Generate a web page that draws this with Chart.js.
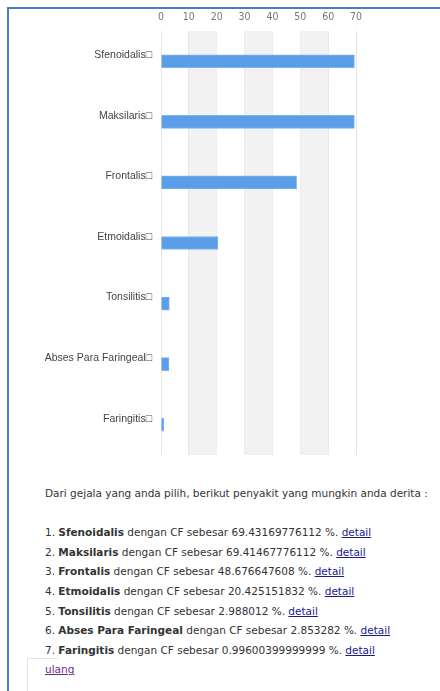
<!DOCTYPE html>
<html>
<head>
<meta charset="utf-8">
<script src="https://cdn.jsdelivr.net/npm/chart.js@4/dist/chart.umd.min.js"></script>
<style>
  body { margin: 0; background: #fff; width: 440px; height: 691px; overflow: hidden; position: relative; }
  .frame { position: absolute; left: 7px; top: 7px; width: 450px; height: 700px; border-left: 2px solid #4a7cc4; border-top: 2px solid #4a7cc4; }
  #wrap { position: absolute; left: 0; top: 0; width: 440px; height: 470px; }
  .result { position: absolute; left: 45px; top: 484px; font-family: Tahoma, "DejaVu Sans", sans-serif; font-size: 10.5px; color: #333; line-height: 19.6px; white-space: nowrap; }
  .result a { color: #1a1a8c; }
  .box { position: absolute; left: 27px; top: 658px; width: 30px; height: 40px; border-left: 1px solid #e4e4e4; border-top: 1px solid #e4e4e4; }
</style>
</head>
<body>
<div class="frame"></div>
<div id="wrap"><canvas id="myChart"></canvas></div>
<div class="box"></div>
<div class="result" id="result"></div>
<script>
// data
const diseases = ['Sfenoidalis', 'Maksilaris', 'Frontalis', 'Etmoidalis', 'Tonsilitis', 'Abses Para Faringeal', 'Faringitis'];
const cfValues = [69.43169776112, 69.41467776112, 48.676647608, 20.425151832, 2.988012, 2.853282, 0.99600399999999];
const xTicks = [0, 10, 20, 30, 40, 50, 60, 70];

// alternate grey bands behind the bars
const bandPlugin = {
    id: 'bands',
    beforeDatasetsDraw(chart) {
        const x = chart.scales.x, area = chart.chartArea, c = chart.ctx;
        c.save();
        c.fillStyle = '#f2f2f2';
        for (let i = 1; i < xTicks.length - 1; i += 2) {
            const a = x.getPixelForValue(xTicks[i]), b = x.getPixelForValue(xTicks[i + 1]);
            c.fillRect(a, area.top, b - a, area.bottom - area.top);
        }
        c.restore();
    }
};

var ctx = document.getElementById('myChart').getContext('2d');
var myChart = new Chart(ctx, {
    type: 'bar',
    data: {
        labels: diseases.map(d => d + '\u25A1'),
        datasets: [{
            data: cfValues,
            backgroundColor: '#5a9ee9',
            borderColor: '#7db4f0',
            borderWidth: 1,
            barThickness: 13
        }]
    },
    plugins: [bandPlugin],
    options: {
        indexAxis: 'y',
        responsive: true,
        maintainAspectRatio: false,
        animation: false,
        layout: { padding: { left: 0, right: 84, top: 0, bottom: 15 } },
        plugins: { legend: { display: false }, tooltip: { enabled: false } },
        scales: {
            x: {
                position: 'top',
                min: 0, max: 70,
                afterBuildTicks: s => { s.ticks = xTicks.map(v => ({ value: v })); },
                afterFit: s => { s.height = 31; },
                ticks: { color: '#777', padding: 7, font: { family: '"Liberation Sans Narrow", "DejaVu Sans Condensed", sans-serif', size: 10.5 } },
                grid: { color: '#e6e6e6', drawTicks: false },
                border: { display: false }
            },
            y: {
                afterFit: s => { s.width = 161; },
                ticks: { color: '#444', padding: 1, labelOffset: -6, font: { family: '"Liberation Sans", Arial, sans-serif', size: 10.5 } },
                grid: { display: false },
                border: { display: false }
            }
        }
    }
});

// result list under the chart
let html = 'Dari gejala yang anda pilih, berikut penyakit yang mungkin anda derita :<br><br>';
diseases.forEach((d, i) => {
    html += (i + 1) + '. <b>' + d + '</b> dengan CF sebesar ' + cfValues[i] + ' %. <a href="#">detail</a><br>';
});
html += '<a href="#" style="color:#6a2a8c">ulang</a>';
document.getElementById('result').innerHTML = html;
</script>
</body>
</html>
